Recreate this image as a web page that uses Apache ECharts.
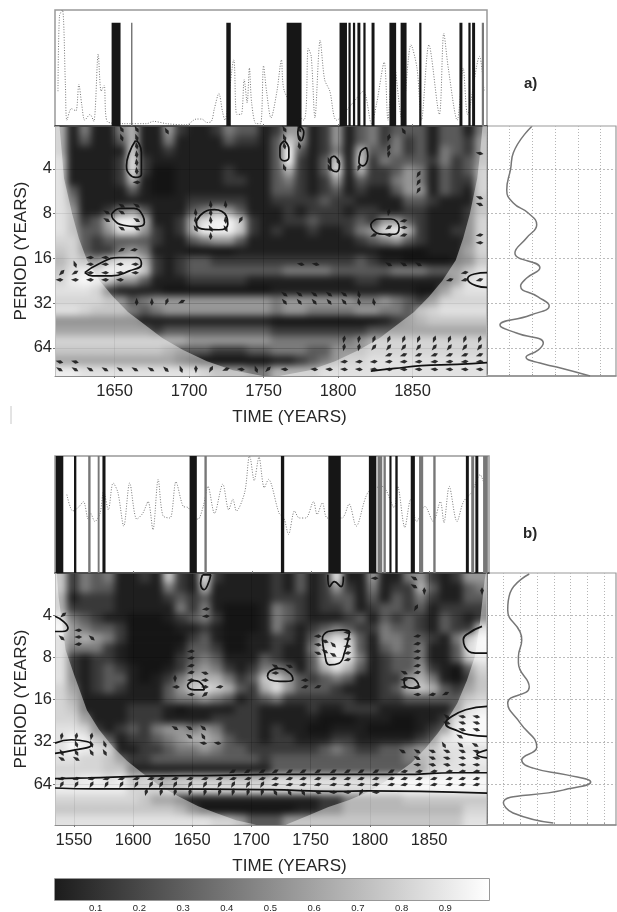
<!DOCTYPE html>
<html><head><meta charset="utf-8">
<style>
html,body{margin:0;padding:0;background:#fff;width:617px;height:912px;overflow:hidden}
#clip{position:absolute;left:0;top:0;width:617px;height:912px;clip-path:path('M55 126H487V376H55Z M55 573H487V825H55Z')}
#heat{position:absolute;left:0;top:0;width:617px;height:912px;filter:blur(3.8px)}
#main{position:absolute;left:0;top:0;width:617px;height:912px;filter:blur(0.45px)}
</style>
<script src="https://cdn.jsdelivr.net/npm/echarts@6/dist/echarts.min.js"></script>
</head><body>
<div id="clip"><div id="heat"></div></div>
<div id="main"></div>
<script>
// ---- coherence, tenths, rows run from short to long period, columns early to late
const heatA=[
[6,1,4,1,1,4,6,1,1,5,2,1,1,2,4,3,3,1,2,5,5,1,2,5,1,3,4,2,3,3,3,1,3,3,1,4],
[6,1,3,1,1,3,6,1,1,4,1,1,1,1,3,2,2,1,3,7,5,1,2,5,1,3,4,2,4,2,3,1,3,3,2,5],
[6,1,1,1,1,1,7,1,1,2,1,1,1,1,1,1,1,1,3,9,3,1,2,4,1,6,3,3,4,2,3,1,4,3,2,5],
[7,1,1,1,1,2,8,2,1,1,1,1,1,1,1,1,1,1,3,9,2,1,3,7,1,7,2,4,3,3,3,2,4,2,3,5],
[7,1,1,1,1,2,8,2,0,0,1,1,1,1,2,1,1,1,3,6,2,1,3,8,1,6,2,2,3,5,4,1,3,2,3,6],
[7,1,1,1,1,2,6,1,0,0,1,1,1,1,2,2,1,1,3,4,2,1,2,5,1,3,2,2,4,5,4,1,3,2,2,6],
[7,3,1,1,1,1,3,1,0,0,1,1,1,1,1,1,1,1,3,3,2,1,2,3,1,2,1,1,3,5,5,1,3,2,1,6],
[7,4,1,1,1,1,1,1,1,1,1,2,2,2,2,2,1,1,2,2,2,2,3,2,2,1,1,1,1,3,3,2,1,1,1,5],
[7,5,1,1,2,4,5,3,1,1,1,3,4,6,5,3,1,1,1,2,1,2,2,2,1,2,2,1,1,2,2,1,1,1,2,5],
[7,5,2,3,6,9,9,6,1,1,2,6,8,9,9,7,2,1,1,2,2,3,2,2,2,3,2,5,5,3,2,1,1,1,2,6],
[7,5,3,3,5,8,8,5,2,1,2,6,9,9,9,7,2,1,2,1,1,2,1,1,2,4,5,8,9,6,2,1,1,2,2,6],
[6,6,3,2,3,3,3,3,2,1,1,3,4,5,5,3,1,1,1,1,1,1,1,1,1,2,3,4,5,3,2,1,1,1,2,6],
[5,6,3,2,2,4,5,4,1,1,1,0,0,0,0,1,1,1,1,1,1,1,1,1,1,1,1,0,0,0,0,1,1,1,3,6],
[4,6,5,5,7,8,8,6,2,1,2,3,3,2,2,2,2,2,2,2,2,2,2,2,2,3,2,1,1,0,0,0,0,1,2,5],
[5,7,8,8,9,9,9,7,2,1,2,3,3,3,3,3,3,3,3,4,4,4,4,3,3,3,3,3,4,4,4,3,3,3,5,7],
[6,8,9,8,7,5,5,3,1,1,1,2,2,2,2,2,1,1,1,1,1,1,1,1,1,2,2,1,1,1,1,1,1,3,7,8],
[7,7,7,6,2,1,1,1,1,0,0,0,0,0,0,0,0,0,1,1,1,1,1,1,1,1,1,1,1,1,0,0,3,6,7,7],
[6,6,6,6,5,5,3,4,5,5,5,5,5,5,5,5,5,5,4,5,5,5,5,5,5,4,4,5,4,3,2,3,6,6,6,6],
[7,7,6,5,5,5,4,3,4,5,5,5,5,5,5,5,5,5,4,5,5,4,4,4,4,5,5,4,4,3,5,6,7,7,7,7],
[2,2,2,2,2,2,2,1,1,1,1,1,1,1,1,1,1,1,0,0,0,0,0,0,0,0,0,1,2,3,4,5,5,5,5,5],
[3,3,3,3,3,3,3,3,2,3,3,3,3,3,3,3,3,3,2,2,2,2,2,2,2,2,3,3,3,3,3,3,3,3,3,3],
[6,6,6,6,6,6,6,6,6,6,6,5,5,5,5,5,5,5,4,4,4,4,4,4,4,5,6,6,6,6,6,6,6,6,6,6],
[5,5,5,5,5,5,5,5,5,4,3,3,3,2,2,2,3,3,4,4,4,3,3,5,5,5,6,6,6,6,6,6,6,6,6,6],
[3,3,3,3,3,3,3,3,3,3,2,1,0,0,0,0,0,0,1,1,2,3,4,5,6,6,7,7,7,7,7,7,7,7,7,7],
[8,8,7,7,7,7,7,7,7,7,7,7,6,5,5,5,4,4,6,6,6,6,7,7,7,7,7,7,7,7,7,7,7,7,7,7]];
const heatB=[
[7,2,4,3,4,1,1,2,1,7,2,1,8,2,1,1,1,1,2,1,3,1,2,8,1,1,5,1,1,4,5,2,1,2,5,5],
[7,2,4,3,3,1,1,1,1,4,2,1,6,1,1,1,1,1,2,1,3,1,2,5,2,1,4,1,2,2,6,3,1,1,3,4],
[6,1,2,2,2,1,1,1,1,2,3,2,3,1,1,1,1,1,2,2,2,1,2,3,3,1,3,1,3,2,4,2,1,1,3,3],
[6,2,2,2,2,1,1,1,1,1,4,2,4,1,0,0,0,1,4,3,2,1,2,2,3,1,2,3,3,2,3,1,2,2,2,2],
[8,4,3,2,1,1,0,0,0,1,2,3,4,2,0,0,0,1,4,3,2,1,1,1,2,3,1,3,2,3,2,1,3,2,1,2],
[9,5,4,3,3,2,0,0,0,0,1,1,2,1,0,0,0,1,4,2,1,2,3,4,3,2,2,4,3,3,2,1,3,2,2,7],
[7,5,6,5,4,2,0,0,0,0,0,2,3,1,0,0,1,1,2,2,1,3,6,8,7,3,1,4,4,3,3,2,1,4,7,9],
[7,4,4,4,2,1,0,0,0,0,1,3,3,2,0,0,1,1,2,1,1,4,8,9,8,3,1,3,4,3,4,1,1,3,8,9],
[7,2,1,2,2,1,0,0,0,0,2,3,4,3,1,1,1,3,2,1,1,3,8,9,8,4,1,2,3,3,4,1,1,3,7,8],
[7,2,1,2,3,2,1,0,0,1,2,4,5,4,2,1,2,4,4,3,1,3,6,8,6,3,1,2,3,3,5,2,1,0,3,6],
[7,2,1,2,3,3,1,0,1,2,4,6,6,6,4,2,3,7,7,5,3,2,3,4,3,1,1,2,2,5,6,4,1,0,2,5],
[6,3,1,2,3,2,1,1,1,3,5,7,8,7,6,3,2,6,8,5,3,3,3,2,1,1,1,2,3,6,7,6,3,2,3,5],
[6,4,1,1,1,1,1,1,1,3,4,4,5,4,3,1,2,3,4,2,2,2,2,2,2,1,1,2,2,3,3,3,3,3,5,6],
[6,5,1,1,1,1,2,2,2,1,0,1,1,1,1,2,2,1,1,1,1,2,1,1,2,2,2,1,1,1,1,1,1,3,7,8],
[6,6,3,1,1,1,2,2,2,1,1,1,1,2,2,2,2,1,1,1,1,1,0,0,0,1,1,1,0,0,1,1,2,7,8,9],
[7,7,6,2,1,2,3,2,4,5,5,4,5,4,2,2,2,1,2,1,1,0,0,1,1,1,0,0,0,0,1,2,3,8,9,9],
[7,9,8,5,3,1,2,2,3,4,5,6,6,5,3,2,2,1,2,2,1,1,1,2,2,1,1,1,1,1,2,3,7,8,9,9],
[7,9,8,7,6,1,1,2,2,3,4,4,5,4,3,3,2,2,2,2,2,2,3,4,3,2,2,3,3,4,5,5,7,7,7,7],
[7,7,6,6,5,3,2,2,3,3,3,3,3,3,3,3,3,2,3,3,3,3,3,3,3,3,3,3,3,4,4,5,6,7,8,8],
[6,6,6,6,5,5,1,1,1,1,1,1,1,1,1,1,1,1,3,3,3,3,3,3,3,3,3,3,3,3,3,6,7,7,7,7],
[7,7,8,8,7,8,5,6,6,6,7,7,7,7,7,7,7,7,8,8,8,8,8,8,8,8,8,8,9,9,9,9,9,9,9,9],
[8,8,8,8,8,8,6,6,6,7,7,8,8,8,8,8,8,8,8,8,8,8,8,8,8,8,8,8,8,9,9,9,9,9,9,9],
[6,6,6,6,6,6,6,5,3,3,2,1,1,1,1,1,1,1,1,1,1,1,2,2,4,4,4,4,4,5,5,5,5,5,5,5],
[5,5,5,5,5,5,5,5,5,5,4,2,0,0,0,0,0,0,0,0,1,1,2,2,4,4,4,4,4,4,4,4,4,4,6,6],
[7,7,7,7,7,7,7,7,7,7,7,7,7,6,6,5,3,3,3,5,5,5,5,5,5,5,5,5,5,5,5,5,5,5,7,7]];

// ---- axis ticks
const yearTicksA=[1650,1700,1750,1800,1850];
const yearTicksB=[1550,1600,1650,1700,1750,1800,1850];
const octaveTicks=[2,3,4,5,6];
const colorbarTicks=[0.1,0.2,0.3,0.4,0.5,0.6,0.7,0.8,0.9];
const powerTicksA=[0,1,2,3,4,5];
const powerTicksB=[0,1,2,3,4,5,6,7];

// ---- top panels: dotted series [year,value] and black spans [start,end]
const topLineA=[[1612,.3],[1613,.95],[1615,1],[1617,.35],[1618,.05],[1621,.15],[1624,.13],[1626,.36],[1628,.18],[1630,.05],[1633.5,.1],[1636,.04],[1639,.62],[1641,.3],[1643,.35],[1645,.04],[1656,.02],[1671.5,.02],[1676,.04],[1685,.02],[1698,.01],[1705,.06],[1708.5,.06],[1712,.03],[1715,.04],[1717,.15],[1720,.28],[1722.5,.12],[1724,.05],[1730,.57],[1732,.1],[1735,.1],[1737,.4],[1739,.2],[1740.5,.5],[1742,.2],[1745,.02],[1748,.02],[1750,.52],[1752,.3],[1755,.07],[1759,.3],[1762,.57],[1764,.3],[1777,.05],[1780,.67],[1782,.6],[1784.5,.07],[1788,.74],[1791,.4],[1794.5,.3],[1799,.05],[1810,.2],[1817,.3],[1822.5,.02],[1826,.2],[1831,.55],[1833.5,.05],[1837,.6],[1843,.05],[1849,.7],[1853,.5],[1856,.05],[1861,.7],[1868,.1],[1871,.8],[1874,.5],[1880,.05],[1884,.5],[1887,.1],[1895,.6],[1898,.3]];
const topLineB=[[1544,.67],[1549,.53],[1553.6,.56],[1558,.61],[1562,.46],[1564,.51],[1567.6,.44],[1572,.51],[1575,.7],[1579,.54],[1583,.77],[1587,.69],[1592,.4],[1597,.77],[1603,.46],[1608,.51],[1612.5,.61],[1616.6,.37],[1621,.8],[1625,.49],[1631,.47],[1636,.78],[1642,.57],[1646,.56],[1654.5,.46],[1659,.57],[1663,.74],[1668.5,.51],[1675.5,.76],[1680.5,.54],[1684,.63],[1687,.53],[1694,.69],[1698,1],[1699,.97],[1702,.79],[1706,.99],[1710.5,.73],[1714,.8],[1723,.51],[1727,.47],[1731,.33],[1736,.53],[1740,.47],[1745.5,.47],[1752,.61],[1755,.5],[1759.5,.6],[1763.7,.47],[1776,.47],[1782,.59],[1788,.4],[1798,.69],[1810,.74],[1820,.56],[1823,.74],[1829,.39],[1834,.63],[1839,.44],[1846,.57],[1853,.44],[1859,.61],[1862,.43],[1866.5,.74],[1873,.44],[1878.5,.61],[1885.5,.69],[1892.5,.84],[1896.5,.74]];
const blackSpansA=[[1648,1654],[1725,1728],[1765.5,1775.5],[1801,1806],[1807,1808.5],[1810,1811.5],[1813,1815],[1817,1818.5],[1822.5,1824.5],[1834.5,1839],[1842,1846],[1854.5,1856],[1881.5,1883.5],[1887.5,1889],[1890,1892]];
const greySpansA=[[1661,1662],[1896.5,1898]];
const blackSpansB=[[1534.6,1541],[1550,1552],[1574,1576.6],[1647.5,1653.6],[1724.5,1727.3],[1764.5,1775],[1798.7,1805],[1816,1817.8],[1821,1823],[1834,1837.5],[1880.5,1883],[1888.5,1891]];
const greySpansB=[[1562,1564],[1570,1571.6],[1660,1662],[1806,1810],[1811,1813],[1841,1844.5],[1853,1855],[1885,1887.5],[1895,1899]];
const spanTopA=[0.89];
const spanTopB=[1];

// ---- right panels: global power [power, log2 period]
const powerA=[[1.97,1.05],[1.16,1.64],[1.04,2],[.87,2.47],[1.16,2.76],[1.8,2.98],[2.19,3.25],[1.75,3.54],[1.23,3.88],[2.33,4.21],[1.75,4.44],[1.48,4.62],[2.25,4.86],[2.74,5.06],[1.9,5.27],[.57,5.49],[1.3,5.67],[2.48,5.89],[2.25,6.05],[1.72,6.21],[2.33,6.34],[3.07,6.43],[4.54,6.63]];
const powerB=[[2.53,1.03],[1.38,1.48],[1.24,1.88],[1.98,2.4],[2.08,2.59],[1.88,2.99],[1.88,3.13],[2.53,3.7],[1.24,4.08],[1.98,4.55],[2.98,5.12],[2.08,5.43],[2.77,5.62],[4.77,5.78],[6.21,5.95],[4.55,6.14],[.98,6.44],[1.56,6.68],[3.97,6.92]];

// ---- cone of influence [year, log2 period]
const coneLeftA=[[1613,1.04],[1614.5,1.6],[1616,2.2],[1621.5,3],[1626,3.55],[1631.5,4.04],[1640,4.5],[1649,4.86],[1659,5.2],[1669,5.45],[1682,5.78],[1696,6.05],[1712,6.3],[1729.5,6.5],[1749.6,6.63]];
const coneRightA=[[1897,1.04],[1895.5,1.6],[1893.5,2.2],[1888.5,3],[1884,3.55],[1879,4.04],[1870,4.5],[1861,4.86],[1851,5.2],[1841,5.45],[1828,5.78],[1814,6.05],[1798,6.3],[1781,6.5],[1760.4,6.63]];
const coneLeftB=[[1535.5,1.01],[1537,1.57],[1543,2.83],[1550,3.4],[1561,4.25],[1571,4.7],[1583,5.12],[1595,5.45],[1608,5.74],[1623,6.05],[1639,6.3],[1655,6.52],[1670,6.68],[1687,6.85],[1704,6.96]];
const coneRightB=[[1898,1.01],[1897,1.17],[1893,2.19],[1888.7,2.99],[1882,3.55],[1874,4.08],[1866,4.45],[1857.6,4.79],[1847,5.15],[1835,5.5],[1818,5.85],[1799,6.18],[1782,6.38],[1765,6.54],[1747,6.75],[1729,6.96]];

// ---- significance contours [year, log2 period]
const contoursA=[
[[1664,1.37],[1660,1.63],[1658,1.93],[1660,2.12],[1664,2.19],[1668,2.12],[1668,1.63],[1666,1.41],[1664,1.37]],
[[1648,3.01],[1654,2.88],[1663,2.88],[1669,3.05],[1670,3.2],[1665,3.29],[1656,3.26],[1649,3.12],[1648,3.01]],
[[1705,3.16],[1710,2.97],[1717,2.91],[1725,3.05],[1726,3.23],[1720,3.36],[1711,3.35],[1705,3.24],[1705,3.16]],
[[1630,4.32],[1639,4.13],[1653,3.98],[1665,3.98],[1668,4.13],[1660,4.28],[1648,4.39],[1635,4.39],[1630,4.32]],
[[1764,1.37],[1767,1.56],[1767,1.74],[1764,1.82],[1761,1.71],[1761,1.52],[1764,1.37]],
[[1774,1.04],[1777,1.18],[1775,1.37],[1773,1.18],[1774,1.04]],
[[1797.5,1.71],[1801,1.89],[1799,2.06],[1795,1.97],[1795,1.78],[1797.5,1.71]],
[[1819,1.52],[1820,1.71],[1816.5,1.93],[1814,1.85],[1815,1.63],[1819,1.52]],
[[1822,3.23],[1827,3.12],[1835.5,3.12],[1841,3.31],[1838,3.46],[1830,3.46],[1823,3.35],[1822,3.23]],
[[1900,4.32],[1891.5,4.35],[1887,4.46],[1892.6,4.61],[1900,4.65]],
[[1822,6.52],[1838,6.46],[1856,6.4],[1880,6.37],[1900,6.33]]];
const contoursB=[
[[1534,2.03],[1541,2.15],[1545,2.31],[1540,2.39],[1534,2.39]],
[[1534,5.03],[1548,4.95],[1560.6,4.99],[1565,5.07],[1551,5.19],[1534,5.27]],
[[1658.6,1.05],[1665.6,1.05],[1663,1.29],[1660,1.4],[1657,1.25],[1658.6,1.05]],
[[1646,3.65],[1651.6,3.55],[1658.6,3.65],[1660,3.77],[1651.6,3.77],[1647,3.73],[1646,3.65]],
[[1534,5.87],[1562,5.85],[1610,5.81],[1674,5.79],[1715,5.77],[1771,5.77],[1827,5.77],[1872,5.73],[1899,5.73]],
[[1534,6.09],[1570,6.11],[1618,6.11],[1715,6.13],[1771,6.17],[1799,6.16],[1842,6.17],[1899,6.21]],
[[1764.5,2.39],[1777,2.35],[1782.7,2.39],[1778.5,2.9],[1774,3.14],[1766,3.18],[1761.7,2.9],[1760,2.55],[1764.5,2.39]],
[[1713.5,3.45],[1715.5,3.33],[1722.5,3.26],[1732,3.37],[1735,3.53],[1724,3.57],[1715.5,3.53],[1713.5,3.45]],
[[1829,3.49],[1834.5,3.49],[1841.5,3.69],[1836,3.73],[1829,3.61],[1829,3.49]],
[[1894.8,2.27],[1883.5,2.43],[1879,2.58],[1883.5,2.86],[1889,2.9],[1899,2.9]],
[[1899,4.16],[1881,4.24],[1867,4.44],[1864,4.56],[1875,4.75],[1883.5,4.83],[1899,4.87]],
[[1899,5.19],[1890.5,5.3],[1899,5.38]],
[[1764.5,1.05],[1766,1.33],[1770,1.21],[1775.7,1.33],[1777.7,1.09]]];

// ---- phase arrows: [log2 period, angle, [years]]
const arrowsA=[
[1.0,-60,[1685,1784,1844]],[1.11,-60,[1654.7,1664.8,1764,1774]],[1.15,-60,[1685,1844]],[1.3,-70,[1654.7,1664.8,1764,1774]],
[1.48,-80,[1664.8,1764,1774]],[1.67,-85,[1664.8]],[1.85,-85,[1664.8]],[2.04,-85,[1664.8]],[1.67,80,[1834]],[1.3,75,[1834]],[1.53,70,[1834]],
[2.3,0,[1664.8]],[1.97,-70,[1764,1794]],[1.82,-70,[1794,1800]],[1.97,70,[1814]],[2.12,60,[1854]],[2.3,60,[1854]],[2.48,60,[1854]],[1.65,-10,[1895]],
[2.82,-30,[1654.7,1664.8]],[2.79,-85,[1714.5,1724.5]],[2.97,-30,[1644.7,1654.7]],[2.97,-85,[1704.4,1714.5]],[3.14,-30,[1644.7,1664.8]],[3.14,60,[1734.6]],[3.14,-85,[1704.4,1714.5,1724.5]],[3.33,-30,[1654.7,1664.8]],[3.33,-60,[1704.4,1714.5,1724.5]],[3.5,-90,[1714.5]],
[2.97,80,[1834]],[3.16,10,[1844]],[3.31,0,[1844]],[3.48,15,[1844]],[3.48,25,[1824]],[3.31,30,[1834]],[3.48,0,[1834]],[2.64,-20,[1895]],[2.79,-20,[1895]],[3.48,10,[1895]],[3.65,0,[1895]],
[3.81,30,[1654.7]],[3.81,10,[1663]],[4.13,-70,[1623.4]],[3.98,0,[1633.5,1643.6]],[4.13,0,[1633.5,1643.6,1653.6,1663.7]],[4.32,45,[1614.5]],[4.32,30,[1623.4]],[4.32,0,[1633.5,1643.6,1653.6,1663.7]],[4.48,0,[1613,1623.4,1633.5,1643.6,1653.6]],
[4.13,-10,[1775,1785]],[4.13,-28,[1834,1844,1854]],[4.32,10,[1885]],[4.48,15,[1875,1885,1895]],
[4.97,-90,[1664.8,1675]],[4.97,70,[1685]],[4.97,25,[1695]],
[4.8,-35,[1764,1774,1784,1794,1804]],[4.8,-80,[1814]],[4.97,-50,[1764,1774,1784,1794,1804]],[4.97,-80,[1814,1824]],
[5.81,80,[1804,1814]],[5.81,70,[1824,1834,1844,1854,1864.6,1874.7,1885,1895]],
[5.99,80,[1804,1814]],[5.99,50,[1824,1834,1844,1854,1864.6,1874.7,1885,1895]],
[6.16,20,[1834,1844,1854,1864.6,1874.7,1885,1895]],
[6.31,5,[1804,1814,1824,1834,1844,1854,1864.6,1874.7,1885,1895]],[6.31,-15,[1613,1623.4]],
[6.48,-5,[1764,1784,1794,1804,1814,1824,1834,1844,1854,1864.6,1874.7,1885,1895]],
[6.48,-30,[1613,1623.4,1633.5,1643.6,1653.6,1663.7,1674.4]],[6.48,-45,[1684.5]],[6.48,-70,[1694.6]],[6.48,90,[1704.6]],[6.48,60,[1714.7]],[6.48,20,[1724.8]],[6.48,-5,[1734.8]],[6.48,-70,[1745]],[6.48,45,[1753]]];
const arrowsB=[
[1.86,5,[1661.5]],[2.03,5,[1661.5]],[2.0,40,[1541]],[2.36,0,[1553.6]],[2.52,0,[1553.6]],[2.69,5,[1553.6]],[2.54,-40,[1565,1539.6]],
[2.86,5,[1648.8]],[3.02,8,[1648.8]],[3.2,10,[1648.8]],[3.36,10,[1648.8]],[3.51,90,[1635.4]],[3.7,0,[1636.2,1660.6]],[3.54,0,[1648.8,1660.6]],[3.37,-15,[1660.6]],[3.7,10,[1673]],[3.88,5,[1648.8]],[3.88,40,[1660.6]],
[4.67,-30,[1635.4,1647.5]],[4.67,-40,[1659.2]],[4.87,-35,[1647.5]],[4.87,-60,[1659.2]],[5.03,-10,[1659.2,1671.3]],
[4.87,80,[1539.6,1552,1564.8]],[5.05,-70,[1552,1564.8,1576]],[5.25,-60,[1539.6,1552,1564.8,1576]],[5.4,-30,[1539.6,1552]],
[5.7,28,[1684,1696.5,1709,1720,1732,1743.5,1756,1769,1781,1792.5,1805,1818]],
[5.87,15,[1539.6,1552,1564.8,1577.4,1590,1602.6,1615,1623.6,1635.4,1648,1660.6,1673,1684.4,1697,1709,1720,1732,1743.5,1756,1769,1781,1792.5,1805,1818,1829,1841.5,1854,1867,1878,1890]],
[6.01,60,[1539.6,1552,1564.8,1577.4,1590,1602.6,1615,1623.6,1635.4,1648,1660.6,1673,1684.4,1697,1709]],
[6.01,12,[1720,1732,1743.5,1756,1769,1781,1792.5,1805,1818,1829,1841.5,1854,1867,1878,1890]],
[6.19,75,[1611,1623.6,1635.4,1648,1660.6,1673,1684.4,1697,1709]],[6.19,-60,[1720,1732,1743.5]],[6.19,-20,[1756]],[6.19,0,[1769,1781,1805]],[6.19,60,[1792.5]],
[1.13,-30,[1837.4]],[1.32,-30,[1837.4]],[1.44,90,[1846]],[1.13,0,[1804]],[1.83,60,[1839]],[1.44,90,[1894.8]],
[2.5,0,[1756]],[2.7,-10,[1756]],[2.9,-20,[1756]],[2.41,0,[1781]],[2.57,0,[1781]],[2.74,0,[1781]],[2.9,10,[1781]],[3.06,15,[1781]],[2.62,-20,[1762]],[2.7,-45,[1769]],[2.86,-30,[1762]],[2.94,-30,[1769]],
[2.5,10,[1840]],[2.68,10,[1840]],[2.86,10,[1840]],[3.02,10,[1840]],[3.2,10,[1840]],[3.36,10,[1840]],[3.36,-25,[1829]],[3.53,0,[1829]],[3.7,0,[1829,1840]],[3.88,0,[1840]],[3.88,10,[1852.7]],[3.86,25,[1864]],
[3.21,-30,[1720]],[3.21,-20,[1732]],[3.37,0,[1720]],[3.54,0,[1745]],[3.7,15,[1745]],[3.7,20,[1756]],
[4.4,-40,[1865]],[4.4,-10,[1878,1890]],[4.55,-15,[1865,1878,1890]],[4.71,-15,[1878,1890]],[4.87,-30,[1876]],[5.07,-60,[1862.5]],[5.07,-40,[1876.5]],[5.07,-30,[1889]],
[5.22,-30,[1827.5,1840]],[5.22,-20,[1852.7,1865,1878]],[5.22,-15,[1890]],[5.38,-30,[1840]],[5.38,-20,[1852.7]],[5.38,-15,[1865]],[5.38,-10,[1878,1890]],[5.54,-5,[1840,1878,1890]],[5.54,-10,[1852.7,1865]],
[5.7,10,[1829,1841.5,1854,1867,1878,1890]]];

// ---- build
const panelA={l:55,w:432,hTop:126,hH:250,yr:[1610,1900],oct:[1.04,6.63]};
const panelB={l:55,w:432,hTop:573,hH:252,yr:[1534,1899],oct:[1.007,6.965]};
const TEXT='#262626',FONT='"Liberation Sans",Arial,sans-serif',EDGE='#8c8c8c';

// extends a matrix by one repeated cell on every side so the soft edge falls outside the panel
function pad(m){const rows=[m[0],...m,m[m.length-1]].map(r=>[r[0],...r,r[r.length-1]]);return rows;}
function cells(m){const out=[];m.forEach((r,j)=>r.forEach((v,i)=>out.push([i,j,v])));return out;}
const pA=pad(heatA),pB=pad(heatB);
const cw=432/36;
const hA=250/25,hB=252/25;
const hide={show:false};
const idx=n=>Array.from({length:n},(_,i)=>i);
const heat=echarts.init(document.getElementById('heat'),null,{renderer:'canvas'});
heat.setOption({animation:false,
 grid:[{left:55-cw,top:126-hA,width:cw*38,height:hA*27,outerBoundsMode:'none'},{left:55-cw,top:573-hB,width:cw*38,height:hB*27,outerBoundsMode:'none'}],
 xAxis:[0,1].map(g=>({type:'category',gridIndex:g,data:idx(38),...hide})),
 yAxis:[0,1].map(g=>({type:'category',gridIndex:g,data:idx(27),inverse:true,...hide})),
 visualMap:{show:false,type:'continuous',min:0,max:10,inRange:{color:['#141414','#1f1f1f','#393939','#5a5a5a','#7a7a7a','#979797','#b1b1b1','#c9c9c9','#dfdfdf','#f3f3f3','#ffffff']},seriesIndex:[0,1]},
 series:[
  {type:'heatmap',xAxisIndex:0,yAxisIndex:0,data:cells(pA),progressive:0},
  {type:'heatmap',xAxisIndex:1,yAxisIndex:1,data:cells(pB),progressive:0}]
});

function spanSeries(x,y,spans,top,color){return {type:'custom',xAxisIndex:x,yAxisIndex:y,data:spans,encode:{x:[0,1]},silent:true,z:3,clip:true,
 renderItem:(p,api)=>{const a=api.coord([api.value(0),0]),b=api.coord([api.value(1),top]);
  return {type:'rect',shape:{x:a[0],y:b[1],width:Math.max(b[0]-a[0],1),height:a[1]-b[1]},style:{fill:color}};}};}
function coneSeries(x,y,left,right,P){
 const polys=[[[P.yr[0],P.oct[0]],...left,[P.yr[0],P.oct[1]]],[[P.yr[1],P.oct[0]],...right,[P.yr[1],P.oct[1]]]];
 return {type:'custom',xAxisIndex:x,yAxisIndex:y,data:[[0],[1]],silent:true,z:2,clip:true,encode:{x:[],y:[]},
  renderItem:(p,api)=>({type:'polygon',shape:{points:polys[p.dataIndex].map(q=>api.coord(q))},style:{fill:'rgba(255,255,255,0.46)'}})};}
function contourSeries(x,y,list){return list.map(c=>({type:'line',xAxisIndex:x,yAxisIndex:y,data:c,smooth:0.5,symbol:'none',silent:true,z:5,clip:true,lineStyle:{color:'#111',width:1.7}}));}
function arrowSeries(x,y,rows){const data=[];rows.forEach(r=>r[2].forEach(t=>data.push([t,r[0],r[1]])));
 return {type:'scatter',xAxisIndex:x,yAxisIndex:y,data,silent:true,z:6,clip:true,
  symbol:'path://M0 0L6 -2L10 0L6 2Z',symbolSize:[8,3.6],symbolRotate:v=>v[2],itemStyle:{color:'#1a1a1a',opacity:.9}};}
function topLine(x,y,d){return {type:'line',xAxisIndex:x,yAxisIndex:y,data:d,smooth:0.3,symbol:'none',silent:true,z:2,clip:true,lineStyle:{color:'#777',width:1,type:[1,1.6]}};}
function powerLine(x,y,d){return {type:'line',xAxisIndex:x,yAxisIndex:y,data:d,smooth:0.5,symbol:'none',silent:true,z:2,clip:true,lineStyle:{color:'#777',width:1.5}};}

const dotted={show:true,lineStyle:{color:'#b5b5b5',width:1,type:[1,2]}};
const faint={show:true,lineStyle:{color:'rgba(0,0,0,.16)',width:1}};
const noLabel={show:false};
function topX(g,P,ticks){return {type:'value',gridIndex:g,min:P.yr[0],max:P.yr[1],axisLine:{show:true,onZero:false,lineStyle:{color:'#333',width:1.5}},axisTick:{show:true,inside:true,length:2,customValues:ticks,lineStyle:{color:'#777'}},axisLabel:noLabel,splitLine:hide};}
function topY(g){return {type:'value',gridIndex:g,min:0,max:1,position:'right',axisLine:{show:false},axisTick:hide,axisLabel:noLabel,splitLine:hide};}
function heatX(g,P,ticks){return {type:'value',gridIndex:g,min:P.yr[0],max:P.yr[1],name:'TIME (YEARS)',nameLocation:'center',nameGap:33,nameMoveOverlap:false,nameTextStyle:{color:TEXT,fontSize:17,fontFamily:FONT,padding:[0,0,0,37]},
 axisLine:{show:true,onZero:false,lineStyle:{color:EDGE,width:1}},axisTick:{show:true,length:2,customValues:ticks,lineStyle:{color:'#777'}},axisLabel:{customValues:ticks,color:TEXT,fontSize:16.5,fontFamily:FONT,margin:7,formatter:v=>String(v)},splitLine:faint};}
function heatY(g,P){return {type:'value',gridIndex:g,inverse:true,min:P.oct[0],max:P.oct[1],name:'PERIOD (YEARS)',nameLocation:'center',nameRotate:90,nameGap:25,nameMoveOverlap:false,nameTextStyle:{color:TEXT,fontSize:17,fontFamily:FONT},
 axisLine:{show:true,onZero:false,lineStyle:{color:EDGE,width:1}},axisTick:{show:true,length:2,customValues:octaveTicks,lineStyle:{color:'#777'}},axisLabel:{customValues:octaveTicks,color:TEXT,fontSize:16.5,fontFamily:FONT,margin:3,formatter:v=>String(Math.pow(2,v))},splitLine:faint};}
function rightX(g,max,ticks){return {type:'value',gridIndex:g,min:0,max,axisLine:{show:true,onZero:false,lineStyle:{color:EDGE,width:1.5}},axisTick:{show:true,inside:true,length:2,customValues:ticks,lineStyle:{color:'#999'}},axisLabel:noLabel,splitLine:{...dotted}};}
function rightY(g,P){return {type:'value',gridIndex:g,inverse:true,min:P.oct[0],max:P.oct[1],axisLine:{show:true,onZero:false,lineStyle:{color:'#666',width:1.5}},axisTick:{show:true,inside:true,length:2,customValues:octaveTicks,lineStyle:{color:'#888'}},axisLabel:noLabel,splitLine:{...dotted,lineStyle:{color:'#bbb',width:1,type:[2,2]}}};}

const main=echarts.init(document.getElementById('main'),null,{renderer:'canvas'});
main.setOption({animation:false,backgroundColor:'transparent',
 textStyle:{fontFamily:FONT},
 grid:[
  {left:55,top:10,width:432,height:116,show:true,borderColor:'#999',borderWidth:1.5,backgroundColor:'transparent',outerBoundsMode:'none'},
  {left:55,top:126,width:432,height:250,outerBoundsMode:'none'},
  {left:487,top:126,width:129,height:250,show:true,borderColor:'#999',borderWidth:1.2,outerBoundsMode:'none'},
  {left:55,top:456,width:434,height:117,show:true,borderColor:'#999',borderWidth:1.5,outerBoundsMode:'none'},
  {left:55,top:573,width:432,height:252,outerBoundsMode:'none'},
  {left:487,top:573,width:129,height:252,show:true,borderColor:'#999',borderWidth:1.2,outerBoundsMode:'none'},
  {left:55,top:879,width:434,height:21,show:true,borderColor:'#777',borderWidth:1.5,outerBoundsMode:'none'}],
 xAxis:[topX(0,panelA,yearTicksA),heatX(1,panelA,yearTicksA),rightX(2,129/22.7,powerTicksA),
        {...topX(3,{yr:[1534,1900]},yearTicksB)},heatX(4,panelB,yearTicksB),rightX(5,129/16.7,powerTicksB),
        {type:'value',gridIndex:6,min:0.007,max:1,axisLine:hide,axisTick:{show:true,inside:true,length:4,customValues:colorbarTicks,lineStyle:{color:'#444'}},
         axisLabel:{customValues:colorbarTicks,color:TEXT,fontSize:9.5,fontFamily:FONT,margin:3,formatter:v=>v.toFixed(1)},splitLine:hide}],
 yAxis:[topY(0),heatY(1,panelA),rightY(2,panelA),topY(3),heatY(4,panelB),rightY(5,panelB),
        {type:'value',gridIndex:6,min:0,max:1,show:false}],
 graphic:[
  {type:'text',left:524,top:76,style:{text:'a)',fontSize:15,fontWeight:'bold',fontFamily:FONT,fill:TEXT}},
  {type:'text',left:523,top:526,style:{text:'b)',fontSize:15,fontWeight:'bold',fontFamily:FONT,fill:TEXT}},
  {type:'line',shape:{x1:11,y1:406,x2:11,y2:424},style:{stroke:'#c8c8c8',lineWidth:1}}],
 series:[
  topLine(0,0,topLineA),spanSeries(0,0,blackSpansA,spanTopA[0],'#161616'),spanSeries(0,0,greySpansA,spanTopA[0],'#777'),
  coneSeries(1,1,coneLeftA,coneRightA,panelA),...contourSeries(1,1,contoursA),arrowSeries(1,1,arrowsA),
  powerLine(2,2,powerA),
  topLine(3,3,topLineB),spanSeries(3,3,blackSpansB,spanTopB[0],'#161616'),spanSeries(3,3,greySpansB,spanTopB[0],'#777'),
  coneSeries(4,4,coneLeftB,coneRightB,panelB),...contourSeries(4,4,contoursB),arrowSeries(4,4,arrowsB),
  powerLine(5,5,powerB),
  {type:'custom',xAxisIndex:6,yAxisIndex:6,data:[[0.007,1]],encode:{x:[0,1]},silent:true,clip:true,z:1,
   renderItem:(p,api)=>{const a=api.coord([api.value(0),0]),b=api.coord([api.value(1),1]);
    return {type:'rect',shape:{x:a[0],y:b[1],width:b[0]-a[0],height:a[1]-b[1]},
     style:{fill:new echarts.graphic.LinearGradient(0,0,1,0,[{offset:0,color:'#1c1c1c'},{offset:1,color:'#ffffff'}])}};}}]
});
</script>
</body></html>
